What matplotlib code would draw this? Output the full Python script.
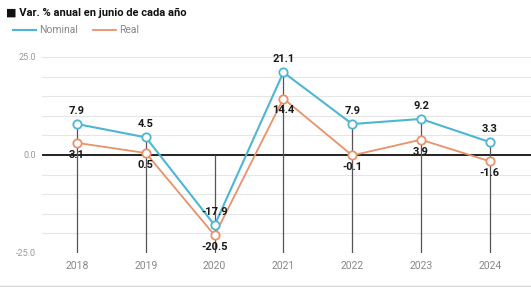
import matplotlib
matplotlib.use('Agg')
import matplotlib.pyplot as plt
import numpy as np

plt.rcParams['font.family'] = ['Roboto', 'DejaVu Sans']

years = [2018, 2019, 2020, 2021, 2022, 2023, 2024]
nominal = [7.9, 4.5, -17.9, 21.1, 7.9, 9.2, 3.3]
real = [3.1, 0.5, -20.5, 14.4, -0.1, 3.9, -1.6]
y_ticks = [25.0, 0.0, -25.0]

blue = '#4db6d3'
orange = '#e9916a'

fig = plt.figure(figsize=(5.31, 2.87), dpi=100)
ax = fig.add_axes([42 / 531, 34 / 287, 1 - 42 / 531, 196 / 287])

# light horizontal grid every 5
for g in np.arange(-25, 26, 5):
    ax.axhline(g, color='#e6e6e6', lw=0.8, zorder=0)
ax.axhline(0, color='#222222', lw=1.4, zorder=1)

# vertical drop lines
tops = [max(v, 0) for v in nominal]
ax.vlines(years, -25, tops, color='#555555', lw=0.9, zorder=1)

ax.plot(years, nominal, color=blue, lw=1.5, marker='o', ms=6,
        mfc='white', mec=blue, mew=1.3, zorder=3, label='Nominal', clip_on=False)
ax.plot(years, real, color=orange, lw=1.3, marker='o', ms=6,
        mfc='white', mec=orange, mew=1.3, zorder=2, label='Real', clip_on=False)

for x, v in zip(years, nominal):
    ax.annotate(f'{v:.1f}', (x, v), xytext=(0, 6), textcoords='offset points',
                ha='center', va='bottom', fontsize=8, fontweight='bold', color='#1a1a1a', zorder=5)
for x, v in zip(years, real):
    ax.annotate(f'{v:.1f}', (x, v), xytext=(0, -5), textcoords='offset points',
                ha='center', va='top', fontsize=8, fontweight='bold', color='#1a1a1a', zorder=5)

ax.set_xlim(2017.49, 2024.6)
ax.set_ylim(-25, 25)
ax.set_yticks(y_ticks)
ax.set_yticklabels([f'{t:.1f}' for t in y_ticks], fontsize=6.5, color='#999999')
ax.set_xticks(years)
ax.set_xticklabels([str(y) for y in years], fontsize=7.5, color='#888888')
ax.tick_params(length=0, pad=6)
ax.tick_params(axis='y', pad=4)
for s in ax.spines.values():
    s.set_visible(False)

fig.text(0.012, 0.955, '\u25a0 Var. % anual en junio de cada año', fontsize=8,
         fontweight='bold', color='#111111', va='center')

leg = fig.legend(loc='upper left', bbox_to_anchor=(0.022, 0.915), ncol=2, frameon=False,
                 fontsize=7.5, handlelength=2.2, columnspacing=1.5, handletextpad=0.3,
                 borderaxespad=0, borderpad=0.1)
for h in leg.legend_handles:
    h.set_marker('')
for t in leg.get_texts():
    t.set_color('#888888')

fig.add_artist(plt.Line2D([0.0, 1.0], [0.004, 0.004], color='#d5d5d5', lw=1))

fig.savefig('out.png', dpi=100)
